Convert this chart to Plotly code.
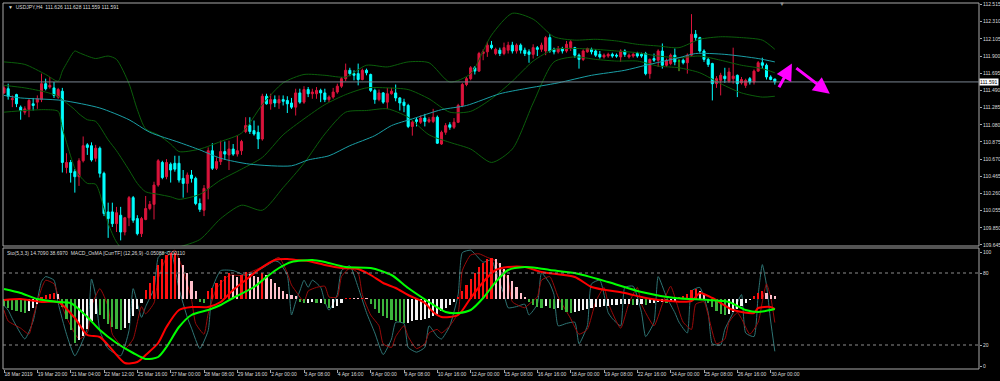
import plotly.graph_objects as go

# ---------------- data ----------------
bars = list(range(186))

opens = [
    111.46, 111.51, 111.38, 111.44, 111.29, 111.23, 111.26, 111.33, 111.35, 111.38,
    111.57, 111.53, 111.52, 111.41, 111.48, 110.57, 110.63, 110.52, 110.46, 110.65,
    110.84, 110.83, 110.68, 110.80, 110.50, 110.04, 110.04, 109.90, 110.00, 109.80,
    109.97, 110.21, 109.96, 109.78, 109.95, 110.08, 110.13, 110.36, 110.63, 110.46,
    110.61, 110.62, 110.62, 110.44, 110.38, 110.48, 110.44, 110.14, 110.06, 110.32,
    110.77, 110.56, 110.64, 110.76, 110.72, 110.79, 110.73, 110.77, 111.00, 111.07,
    111.01, 110.99, 110.91, 111.42, 111.33, 111.38, 111.34, 111.38, 111.37, 111.34,
    111.29, 111.46, 111.35, 111.50, 111.45, 111.45, 111.49, 111.46, 111.38, 111.41,
    111.47, 111.54, 111.63, 111.73, 111.69, 111.69, 111.62, 111.73, 111.68, 111.49,
    111.38, 111.46, 111.35, 111.45, 111.46, 111.40, 111.35, 111.31, 111.06, 111.14,
    111.11, 111.16, 111.12, 111.12, 111.17, 110.85, 110.99, 111.08, 111.05, 111.11,
    111.31, 111.56, 111.63, 111.76, 111.72, 111.93, 111.95, 112.03, 111.93, 111.97,
    111.93, 111.97, 112.03, 111.96, 112.03, 111.97, 111.95, 111.92, 112.00, 111.98,
    111.96, 112.12, 111.98, 111.95, 111.99, 111.96, 112.00, 112.00, 111.91, 111.86,
    111.95, 111.98, 111.96, 111.92, 111.89, 111.90, 111.92, 111.91, 111.89, 111.96,
    111.89, 111.90, 111.93, 111.92, 111.93, 111.69, 111.87, 111.85, 111.96, 111.79,
    111.81, 111.91, 111.84, 111.85, 111.82, 111.91, 112.16, 112.12, 111.96, 111.86,
    111.81, 111.57, 111.61, 111.66, 111.60, 111.63, 111.67, 111.58, 111.55, 111.63,
    111.59, 111.72, 111.82, 111.79, 111.65, 111.626,
]
highs = [
    111.54, 111.57, 111.43, 111.45, 111.31, 111.30, 111.39, 111.40, 111.43, 111.69,
    111.63, 111.65, 111.59, 111.52, 111.52, 110.74, 110.66, 110.55, 110.68, 110.94,
    110.86, 110.87, 110.84, 110.82, 110.52, 110.15, 110.15, 110.10, 110.10, 109.98,
    110.23, 110.23, 110.00, 109.98, 110.23, 110.17, 110.40, 110.67, 110.65, 110.67,
    110.63, 110.71, 110.71, 110.54, 110.51, 110.54, 110.46, 110.20, 110.36, 110.81,
    110.86, 110.69, 110.89, 110.88, 110.89, 110.85, 110.95, 110.90, 111.17, 111.17,
    111.13, 111.07, 111.45, 111.45, 111.45, 111.43, 111.43, 111.43, 111.42, 111.40,
    111.51, 111.51, 111.54, 111.53, 111.51, 111.53, 111.51, 111.51, 111.43, 111.52,
    111.57, 111.65, 111.81, 111.76, 111.73, 111.81, 111.75, 111.75, 111.69, 111.51,
    111.50, 111.47, 111.52, 111.52, 111.56, 111.41, 111.39, 111.33, 111.13, 111.17,
    111.19, 111.21, 111.17, 111.27, 111.19, 111.01, 111.10, 111.11, 111.16, 111.33,
    111.58, 111.65, 111.78, 111.78, 111.95, 111.98, 112.07, 112.08, 112.00, 112.00,
    112.06, 112.07, 112.07, 112.05, 112.05, 112.00, 111.98, 112.04, 112.02, 112.06,
    112.14, 112.16, 112.00, 112.02, 112.01, 112.08, 112.09, 112.01, 111.93, 111.98,
    112.00, 112.00, 111.98, 111.96, 111.93, 111.94, 111.94, 111.93, 111.98, 111.98,
    111.93, 111.94, 111.95, 111.94, 111.95, 111.87, 111.93, 111.98, 112.05, 111.87,
    111.93, 111.99, 111.86, 111.87, 111.93, 112.40, 112.21, 112.13, 111.98, 111.88,
    111.82, 111.66, 111.70, 111.76, 111.76, 112.00, 111.68, 111.65, 111.63, 111.65,
    111.74, 111.84, 111.88, 111.81, 111.67, 111.628,
]
lows = [
    111.45, 111.38, 111.29, 111.29, 111.14, 111.20, 111.17, 111.25, 111.27, 111.35,
    111.49, 111.51, 111.40, 111.39, 110.51, 110.50, 110.39, 110.27, 110.35, 110.63,
    110.72, 110.64, 110.64, 110.45, 109.99, 109.73, 109.86, 109.80, 109.70, 109.76,
    109.87, 109.91, 109.76, 109.74, 109.94, 110.06, 109.95, 110.34, 110.43, 110.43,
    110.39, 110.52, 110.39, 110.21, 110.27, 110.39, 110.12, 110.04, 109.99, 110.19,
    110.54, 110.54, 110.60, 110.66, 110.54, 110.71, 110.70, 110.72, 110.98, 110.97,
    110.95, 110.79, 110.89, 111.32, 111.26, 111.29, 111.27, 111.31, 111.22, 111.27,
    111.19, 111.33, 111.33, 111.41, 111.39, 111.39, 111.35, 111.35, 111.35, 111.39,
    111.45, 111.52, 111.60, 111.66, 111.61, 111.55, 111.61, 111.67, 111.47, 111.33,
    111.36, 111.33, 111.27, 111.44, 111.36, 111.25, 111.23, 111.04, 110.95, 111.06,
    111.09, 111.06, 111.10, 111.10, 110.85, 110.84, 110.96, 111.02, 111.03, 111.10,
    111.29, 111.54, 111.61, 111.68, 111.71, 111.85, 111.89, 111.98, 111.91, 111.90,
    111.91, 111.93, 111.93, 111.93, 111.93, 111.90, 111.82, 111.87, 111.90, 111.95,
    111.91, 111.94, 111.92, 111.93, 111.93, 111.94, 111.96, 111.88, 111.75, 111.84,
    111.94, 111.92, 111.89, 111.87, 111.87, 111.88, 111.88, 111.88, 111.83, 111.89,
    111.87, 111.88, 111.88, 111.88, 111.67, 111.63, 111.83, 111.77, 111.75, 111.77,
    111.79, 111.79, 111.72, 111.80, 111.69, 111.90, 112.08, 111.94, 111.83, 111.77,
    111.37, 111.52, 111.43, 111.58, 111.58, 111.57, 111.41, 111.56, 111.52, 111.56,
    111.56, 111.71, 111.75, 111.62, 111.61, 111.559,
]
closes = [
    111.52, 111.42, 111.39, 111.33, 111.25, 111.27, 111.37, 111.31, 111.39, 111.57,
    111.51, 111.55, 111.43, 111.50, 110.63, 110.63, 110.51, 110.46, 110.65, 110.83,
    110.81, 110.66, 110.80, 110.50, 110.02, 109.96, 109.90, 110.03, 109.80, 109.97,
    110.21, 109.94, 109.78, 109.96, 110.08, 110.13, 110.36, 110.65, 110.45, 110.63,
    110.54, 110.55, 110.42, 110.38, 110.48, 110.44, 110.14, 110.07, 110.32, 110.77,
    110.56, 110.64, 110.76, 110.73, 110.79, 110.73, 110.77, 110.88, 111.07, 111.00,
    110.97, 110.91, 111.42, 111.33, 111.38, 111.34, 111.38, 111.36, 111.33, 111.29,
    111.46, 111.35, 111.50, 111.45, 111.47, 111.49, 111.46, 111.38, 111.41, 111.47,
    111.54, 111.63, 111.73, 111.69, 111.67, 111.62, 111.73, 111.70, 111.49, 111.38,
    111.46, 111.35, 111.45, 111.48, 111.40, 111.34, 111.31, 111.06, 111.11, 111.12,
    111.16, 111.12, 111.14, 111.17, 110.86, 110.99, 111.07, 111.05, 111.11, 111.31,
    111.56, 111.63, 111.76, 111.72, 111.93, 111.95, 112.03, 112.00, 111.98, 111.93,
    112.00, 112.03, 111.96, 112.03, 111.97, 111.93, 111.92, 112.00, 111.98, 112.03,
    112.12, 111.96, 111.95, 111.99, 111.96, 112.04, 112.07, 111.91, 111.86, 111.96,
    111.99, 111.95, 111.91, 111.89, 111.91, 111.92, 111.90, 111.90, 111.96, 111.92,
    111.91, 111.92, 111.90, 111.90, 111.69, 111.86, 111.85, 111.96, 111.79, 111.85,
    111.91, 111.83, 111.84, 111.82, 111.91, 112.16, 112.12, 111.96, 111.86, 111.80,
    111.57, 111.63, 111.67, 111.63, 111.71, 111.66, 111.57, 111.62, 111.61, 111.59,
    111.72, 111.82, 111.79, 111.65, 111.62, 111.591,
]

# moving average (teal)
ma_bar = [0, 4, 14, 23, 30, 35, 42, 47, 52, 59, 69, 73, 78, 83, 89, 93, 98, 105, 111, 119,
          125, 133, 141, 149, 154, 162, 166, 173, 181, 185]
ma_val = [111.43, 111.40, 111.37, 111.28, 111.14, 110.99, 110.87, 110.78, 110.68, 110.61,
          110.59, 110.66, 110.71, 110.83, 110.95, 111.07, 111.15, 111.26, 111.31, 111.45,
          111.51, 111.58, 111.67, 111.73, 111.79, 111.88, 111.93, 111.92, 111.87, 111.83]

# Bollinger bands (dark green)
bb_bar = [0, 5, 10, 13, 14, 15, 17, 18, 20, 22, 25, 27, 30, 32, 34, 37, 40, 42, 47, 52,
          57, 62, 67, 72, 77, 82, 87, 92, 97, 102, 107, 112, 117, 122, 127, 132, 137, 142,
          147, 152, 157, 162, 167, 172, 177, 182, 185]
bb_upper = [111.83, 111.80, 111.68, 111.60, 111.72, 111.81, 111.96, 111.94, 111.90, 111.87,
            111.90, 111.86, 111.57, 111.26, 111.03, 110.96, 110.85, 110.76, 110.79, 110.88,
            110.98, 111.32, 111.58, 111.68, 111.67, 111.65, 111.79, 111.77, 111.83, 111.82,
            111.59, 111.69, 112.15, 112.41, 112.34, 112.13, 112.09, 112.10, 112.08, 112.04,
            112.02, 112.00, 112.10, 112.13, 112.12, 112.09, 111.98]
bb_middle = [111.55, 111.52, 111.47, 111.42, 111.38, 111.34, 111.26, 111.21, 111.14, 111.12,
             110.90, 110.77, 110.54, 110.38, 110.28, 110.25, 110.22, 110.19, 110.25, 110.42,
             110.55, 110.69, 110.96, 111.15, 111.32, 111.44, 111.52, 111.52, 111.50, 111.39,
             111.23, 111.24, 111.39, 111.60, 111.84, 111.98, 111.99, 111.98, 111.96, 111.94,
             111.90, 111.88, 111.90, 111.85, 111.79, 111.75, 111.70]
bb_lower = [111.23, 111.25, 111.26, 111.24, 111.04, 110.87, 110.56, 110.48, 110.38, 110.37,
            109.90, 109.68, 109.51, 109.50, 109.53, 109.54, 109.59, 109.62, 109.71, 109.96,
            110.12, 110.06, 110.33, 110.62, 110.97, 111.23, 111.25, 111.27, 111.17, 110.96,
            110.87, 110.79, 110.63, 110.79, 111.34, 111.83, 111.89, 111.86, 111.84, 111.84,
            111.78, 111.76, 111.70, 111.57, 111.46, 111.41, 111.42]

# Stochastic (5,3,3)
sto_main_bar = [0, 1, 2, 5, 7, 9, 10, 12, 13, 15, 17, 20, 21, 22, 23, 25, 28, 30, 31, 33,
                34, 36, 37, 38, 40, 42, 44, 45, 47, 49, 50, 52, 55, 58, 61, 65, 66, 68, 69, 70,
                71, 72, 73, 74, 76, 77, 78, 80, 81, 83, 85, 87, 89, 91, 93, 94, 96, 97, 99, 101,
                102, 104, 105, 107, 109, 110, 112, 113, 115, 117, 118, 120, 121, 123, 125, 126, 128, 129, 131, 132,
                133, 135, 137, 138, 140, 141, 143, 145, 146, 148, 149, 151, 153, 154, 156, 157, 159, 161, 162, 164,
                165, 167, 169, 170, 172, 173, 175, 177, 178, 180, 181, 182, 183, 184, 185]
sto_main_val = [53, 49, 42, 25, 40, 73, 77, 74, 55, 29, 11, 34, 75, 61, 32, 17, 11, 32, 67, 43,
                52, 67, 93, 96, 98, 67, 43, 34, 17, 32, 67, 82, 82, 78, 82, 90, 89, 78, 45, 56,
                65, 74, 68, 74, 68, 56, 49, 62, 82, 86, 68, 47, 30, 12, 25, 39, 38, 18, 14, 18,
                36, 27, 25, 36, 62, 97, 99, 96, 89, 91, 82, 62, 51, 52, 54, 45, 54, 80, 71, 62,
                36, 38, 39, 21, 36, 71, 74, 47, 42, 36, 68, 69, 47, 27, 39, 77, 60, 47, 39, 30,
                65, 68, 47, 21, 20, 33, 47, 62, 30, 27, 62, 87, 70, 40, 14.709]
sto_sig_bar = [0, 1, 4, 6, 7, 9, 10, 12, 13, 15, 18, 20, 21, 23, 25, 26, 29, 31, 33, 34,
               36, 37, 39, 41, 43, 45, 46, 48, 49, 51, 54, 57, 60, 63, 66, 68, 69, 70, 72, 73,
               75, 77, 78, 80, 81, 83, 85, 86, 88, 90, 91, 93, 94, 96, 97, 99, 101, 102, 104, 105,
               107, 109, 110, 112, 114, 116, 118, 121, 122, 125, 126, 128, 129, 131, 133, 136, 138, 140, 142, 144,
               145, 148, 150, 152, 153, 156, 158, 160, 161, 163, 165, 166, 168, 169, 171, 173, 174, 176, 177, 179,
               181, 182, 183, 184, 185]
sto_sig_val = [49, 40, 34, 29, 43, 67, 74, 71, 61, 43, 25, 30, 52, 67, 52, 29, 17, 25, 52, 46,
               55, 75, 93, 99, 82, 58, 38, 29, 46, 67, 78, 78, 82, 87, 93, 80, 70, 65, 56, 65,
               68, 69, 60, 60, 77, 84, 80, 62, 45, 36, 21, 18, 27, 36, 27, 17, 21, 30, 33, 30,
               36, 47, 82, 95, 96, 93, 90, 74, 56, 51, 54, 60, 74, 77, 60, 42, 29, 33, 56, 68,
               55, 34, 55, 68, 54, 36, 54, 69, 60, 39, 33, 54, 56, 45, 21, 25, 39, 47, 42, 29,
               39, 56, 71, 60, 38.697]

# MACD_OsMA (12,26,9)
osma = [
    -0.035, -0.045, -0.055, -0.06, -0.065, -0.07, -0.06, -0.045, -0.025, 0.01,
    0.02, 0.025, 0.03, 0.025, -0.04, -0.1, -0.155, -0.22, -0.205, -0.185,
    -0.15, -0.11, -0.075, -0.08, -0.1, -0.125, -0.14, -0.15, -0.155, -0.145,
    -0.12, -0.085, -0.05, -0.02, 0.045, 0.08, 0.115, 0.17, 0.2, 0.22,
    0.23, 0.23, 0.205, 0.17, 0.13, 0.09, 0.04, -0.015, -0.02, 0.04,
    0.055, 0.08, 0.095, 0.115, 0.13, 0.12, 0.11, 0.12, 0.135, 0.125,
    0.115, 0.11, 0.13, 0.12, 0.1, 0.08, 0.06, 0.04, 0.025, 0.02,
    0.015, -0.015, -0.02, -0.02, -0.015, -0.02, -0.02, -0.025, -0.045, -0.045,
    -0.035, -0.02, 0.005, 0.005, 0.003, 0.002, 0.005, 0.002, -0.025, -0.05,
    -0.07, -0.085, -0.095, -0.105, -0.11, -0.115, -0.12, -0.12, -0.11, -0.105,
    -0.105, -0.1, -0.095, -0.085, -0.075, -0.06, -0.045, -0.03, -0.015, 0.01,
    0.04, 0.07, 0.1, 0.13, 0.16, 0.18, 0.2, 0.205, 0.2, 0.18,
    0.15, 0.12, 0.09, 0.06, 0.03, 0.01, -0.015, -0.03, -0.04, -0.045,
    -0.035, -0.045, -0.05, -0.045, -0.055, -0.065, -0.07, -0.065, -0.06, -0.055,
    -0.05, -0.045, -0.04, -0.04, -0.035, -0.035, -0.03, -0.03, -0.025, -0.025,
    -0.025, -0.03, -0.03, -0.025, -0.03, -0.02, -0.02, -0.015, -0.015, -0.02,
    -0.015, -0.01, 0.01, 0.015, 0.025, 0.045, 0.05, 0.04, 0.02, -0.02,
    -0.04, -0.06, -0.075, -0.08, -0.075, -0.065, -0.05, -0.035, -0.02, -0.005,
    0.015, 0.03, 0.04, 0.03, 0.02, 0.015,
]
macd_bar = [0, 4, 9, 13, 17, 20, 23, 26, 29, 32, 34, 37, 39, 42, 45, 49, 52, 55, 58, 61,
            65, 68, 70, 73, 77, 81, 85, 88, 91, 94, 97, 101, 103, 105, 109, 112, 115, 118, 121, 125,
            129, 137, 141, 149, 153, 157, 165, 167, 170, 175, 180, 181, 184, 185]
macd_val = [-0.005, 0.0, -0.015, -0.015, -0.095, -0.18, -0.19, -0.255, -0.32, -0.315,
            -0.28, -0.22, -0.14, -0.055, -0.04, -0.04, -0.015, 0.045, 0.095, 0.145,
            0.195, 0.2, 0.195, 0.19, 0.17, 0.155, 0.15, 0.12, 0.08, 0.055,
            0.02, -0.02, -0.065, -0.09, -0.08, 0.005, 0.085, 0.145, 0.16, 0.16,
            0.135, 0.11, 0.06, 0.03, 0.01, -0.005, -0.01, 0.03, 0.005, -0.055,
            -0.07, -0.045, -0.04, -0.051]
signal_bar = [0, 4, 8, 13, 16, 20, 23, 27, 31, 34, 37, 39, 42, 45, 49, 52, 55, 60, 63, 66,
              69, 74, 77, 82, 88, 93, 97, 102, 106, 109, 112, 115, 118, 121, 125, 128, 131, 137, 145, 153,
              161, 169, 174, 178, 181, 185]
signal_val = [0.05, 0.03, 0.0, -0.015, -0.02, -0.09, -0.155, -0.22, -0.27, -0.3,
              -0.29, -0.24, -0.14, -0.08, -0.055, -0.03, 0.005, 0.06, 0.11, 0.155,
              0.185, 0.195, 0.185, 0.16, 0.155, 0.12, 0.055, -0.015, -0.065, -0.07,
              -0.055, 0.005, 0.085, 0.145, 0.16, 0.155, 0.145, 0.13, 0.085, 0.035,
              0.005, -0.005, -0.015, -0.055, -0.065, -0.05]

# axis labels
date_ticks = [0, 8, 16, 24, 32, 40, 48, 56, 64, 72, 80, 88, 96, 104, 112, 120,
              128, 136, 144, 152, 160, 168, 176, 184]
date_labels = ["18 Mar 2019", "19 Mar 20:00", "21 Mar 04:00", "22 Mar 12:00", "25 Mar 16:00",
               "27 Mar 00:00", "28 Mar 08:00", "29 Mar 16:00", "2 Apr 00:00", "3 Apr 08:00",
               "4 Apr 16:00", "8 Apr 00:00", "9 Apr 08:00", "10 Apr 16:00", "12 Apr 00:00",
               "15 Apr 08:00", "16 Apr 16:00", "18 Apr 00:00", "19 Apr 08:00", "22 Apr 16:00",
               "24 Apr 00:00", "25 Apr 08:00", "26 Apr 16:00", "30 Apr 00:00"]
price_ticks = [112.515, 112.310, 112.105, 111.900, 111.695, 111.490, 111.285, 111.080,
               110.875, 110.670, 110.465, 110.260, 110.055, 109.850, 109.645]
bid_price = 111.591
sto_levels = [20, 80]

# hand-drawn arrows (bar, price): tail -> head
arrow_up = [(185.8, 111.51), (189.1, 111.81)]
arrow_down = [(189.8, 111.77), (198.2, 111.45)]

for a, b in [(opens, highs), (lows, closes)]:
    assert len(a) == len(b) == len(bars)
assert len(osma) == len(bars)
assert len(ma_bar) == len(ma_val)
assert len(bb_bar) == len(bb_upper) == len(bb_middle) == len(bb_lower)
assert len(sto_main_bar) == len(sto_main_val)
assert len(sto_sig_bar) == len(sto_sig_val)
assert len(macd_bar) == len(macd_val)
assert len(signal_bar) == len(signal_val)

# ---------------- figure ----------------
FONT = "Liberation Sans"
TXT = "#dcdcdc"
FRAME = "#a8a8a8"

fig = go.Figure()

bb_line = dict(color="#0b5e0b", width=1, shape="spline", smoothing=0.7)
for arr in (bb_upper, bb_middle, bb_lower):
    fig.add_trace(go.Scatter(x=bb_bar, y=arr, mode="lines", line=bb_line,
                             hoverinfo="skip", xaxis="x", yaxis="y"))
fig.add_trace(go.Scatter(x=ma_bar, y=ma_val, mode="lines",
                         line=dict(color="#1a9fa6", width=1, shape="spline", smoothing=0.7),
                         hoverinfo="skip", xaxis="x", yaxis="y"))

fig.add_trace(go.Candlestick(
    x=bars, open=opens, high=highs, low=lows, close=closes,
    increasing=dict(line=dict(color="#dc143c", width=1), fillcolor="#dc143c"),
    decreasing=dict(line=dict(color="#00ffff", width=1), fillcolor="#00ffff"),
    whiskerwidth=0, xaxis="x", yaxis="y"))

doji = [i for i in bars if opens[i] == closes[i]]
if doji:
    fig.add_trace(go.Candlestick(
        x=doji, open=[opens[i] for i in doji], high=[highs[i] for i in doji],
        low=[lows[i] for i in doji], close=[closes[i] for i in doji],
        increasing=dict(line=dict(color="#00c000", width=1), fillcolor="#00c000"),
        decreasing=dict(line=dict(color="#00c000", width=1), fillcolor="#00c000"),
        whiskerwidth=0, xaxis="x", yaxis="y"))

# stochastic lines
fig.add_trace(go.Scatter(x=sto_main_bar, y=sto_main_val, mode="lines",
                         line=dict(color="#2e7474", width=1, shape="spline", smoothing=0.5),
                         hoverinfo="skip", xaxis="x", yaxis="y2"))
fig.add_trace(go.Scatter(x=sto_sig_bar, y=sto_sig_val, mode="lines",
                         line=dict(color="#9a0a0a", width=1, shape="spline", smoothing=0.5),
                         hoverinfo="skip", xaxis="x", yaxis="y2"))

# OsMA histogram colours
cols = []
prev = 0.0
for v in osma:
    if v > 0:
        cols.append("#ff1010" if v >= prev else "#ffc0cb")
    else:
        cols.append("#3cb43c" if v < prev else "#f4f4f4")
    prev = v
fig.add_trace(go.Bar(x=bars, y=osma, marker=dict(color=cols, line=dict(width=0)),
                     width=0.5, hoverinfo="skip", xaxis="x", yaxis="y3"))
fig.add_trace(go.Scatter(x=macd_bar, y=macd_val, mode="lines",
                         line=dict(color="#ff0000", width=2, shape="spline", smoothing=0.7),
                         hoverinfo="skip", xaxis="x", yaxis="y3"))
fig.add_trace(go.Scatter(x=signal_bar, y=signal_val, mode="lines",
                         line=dict(color="#00ff00", width=2, shape="spline", smoothing=0.7),
                         hoverinfo="skip", xaxis="x", yaxis="y3"))

# ---------------- layout ----------------
H = 366.0
main_bottom = (369 - 246) / H
sub_top = (369 - 249) / H
sub_frame_top = (369 - 248) / H

shapes = [
    dict(type="rect", xref="paper", yref="paper", x0=0, x1=1, y0=main_bottom, y1=1,
         line=dict(color=FRAME, width=1)),
    dict(type="rect", xref="paper", yref="paper", x0=0, x1=1, y0=0, y1=sub_frame_top,
         line=dict(color=FRAME, width=1)),
    dict(type="line", xref="paper", yref="y", x0=0, x1=1, y0=bid_price, y1=bid_price,
         line=dict(color="#7a8490", width=1)),
]
for lv in sto_levels:
    shapes.append(dict(type="line", xref="paper", yref="y2", x0=0, x1=1, y0=lv, y1=lv,
                       line=dict(color="#8c8c8c", width=1, dash="dot")))

annotations = [
    dict(xref="paper", yref="paper", x=0.003, y=(369 - 7.5) / H, xanchor="left", yanchor="middle",
         text="\u25bc  USDJPY,H4  111.626 111.628 111.559 111.591", showarrow=False,
         font=dict(family=FONT, size=5, color=TXT)),
    dict(xref="paper", yref="paper", x=0.002, y=(369 - 252.5) / H, xanchor="left", yanchor="middle",
         text="Sto(5,3,3) 14.7090 38.6970  MACD_OsMA [CurrTF] (12,26,9) -0.05088 -0.00110",
         showarrow=False, font=dict(family=FONT, size=5, color=TXT)),
    dict(xref="paper", yref="y", x=1.0, y=bid_price, xanchor="left", yanchor="middle",
         text="111.591", showarrow=False, bgcolor="#ffffff", borderpad=0,
         font=dict(family=FONT, size=5, color="#000000")),
    dict(xref="x", yref="paper", x=186.7, y=0.996, xanchor="center", yanchor="middle",
         text="\u25bc", showarrow=False, font=dict(family=FONT, size=6, color="#909090")),
]
for (tx, ty), (hx, hy) in (arrow_up, arrow_down):
    annotations.append(dict(x=hx, y=hy, ax=tx, ay=ty, xref="x", yref="y", axref="x", ayref="y",
                            text="", showarrow=True, arrowhead=2, arrowsize=1.1,
                            arrowwidth=3, arrowcolor="#ff00ff"))

fig.update_layout(
    width=1000, height=381,
    margin=dict(l=3, r=21, t=3, b=12, autoexpand=False),
    paper_bgcolor="#000000", plot_bgcolor="#000000",
    showlegend=False, bargap=0,
    font=dict(family=FONT, size=5, color=TXT),
    xaxis=dict(range=[-0.24, 234.0], anchor="y2", tickmode="array",
               tickvals=date_ticks, ticktext=date_labels, tickangle=0,
               ticks="outside", ticklen=3, tickcolor=FRAME, tickwidth=1,
               ticklabelposition="outside right",
               tickfont=dict(family=FONT, size=5, color=TXT),
               showgrid=False, zeroline=False, showline=False,
               rangeslider=dict(visible=False), automargin=False, fixedrange=True),
    yaxis=dict(domain=[main_bottom, 1], range=[109.633, 112.533], side="right", anchor="x",
               tickmode="array", tickvals=price_ticks,
               ticktext=[f"{v:.3f}" for v in price_ticks],
               ticks="outside", ticklen=2, tickcolor=FRAME,
               tickfont=dict(family=FONT, size=5, color=TXT),
               showgrid=False, zeroline=False, showline=False, automargin=False),
    yaxis2=dict(domain=[0, sub_top], range=[0, 100], side="right", anchor="x",
                tickmode="array", tickvals=[2.5, 20, 80, 97.5], ticktext=["0", "20", "80", "100"],
                ticks="outside", ticklen=2, tickcolor=FRAME,
                tickfont=dict(family=FONT, size=5, color=TXT),
                showgrid=False, zeroline=False, showline=False, automargin=False),
    yaxis3=dict(overlaying="y2", range=[-0.35, 0.25], visible=False, anchor="x",
                showgrid=False, zeroline=False),
    shapes=shapes, annotations=annotations,
)

fig.write_html(
    "out.html",
    config={"displayModeBar": False},
    post_script="document.body.style.margin='0';document.body.style.padding='0';"
                "document.body.style.overflow='hidden';"
                "document.documentElement.style.overflow='hidden';",
)
